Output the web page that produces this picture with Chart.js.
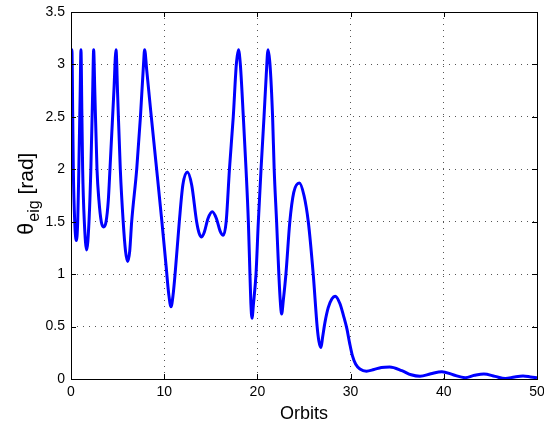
<!DOCTYPE html>
<html>
<head>
<meta charset="utf-8">
<script src="https://cdn.jsdelivr.net/npm/chart.js@4/dist/chart.umd.min.js"></script>
<style>
  body { margin: 0; background: #fff; }
  #wrap { width: 544px; height: 425px; }
</style>
</head>
<body>
<div id="wrap"><canvas id="myChart" width="544" height="425"></canvas></div>
<script>
// orbit number and eigen-angle (rad)
var orbits = [0, 0.1, 0.18, 0.25, 0.4, 0.57, 0.72, 0.84, 0.98, 1.07,
  1.16, 1.25, 1.43, 1.68, 1.93, 2.13, 2.33, 2.43,
  2.55, 2.79, 3.0, 3.25, 3.5, 3.76, 4.0, 4.18, 4.6, 4.83,
  5.0, 5.29, 5.6, 5.85, 6.08, 6.3, 6.51, 7.05, 7.45, 7.78, 7.9,
  8.12, 8.55, 9.12, 9.73, 10.2, 10.5, 10.73, 10.95, 11.2, 11.62,
  12.0, 12.48, 12.95, 13.48, 13.75, 14.02, 14.3, 14.7, 15.16, 15.6, 16.0, 16.34, 16.65,
  17.0, 17.41, 17.74, 17.97, 18.17, 18.49, 18.78, 19.03, 19.2, 19.3, 19.42, 19.58, 19.85,
  20.1, 20.39, 20.71, 20.95, 21.14, 21.35, 21.63, 21.8, 22.06, 22.3, 22.45, 22.6, 22.78,
  23.06, 23.48, 23.9, 24.5, 25.0, 25.46, 25.99, 26.41, 26.6, 26.82, 27.0, 27.25, 27.6,
  28.0, 28.35, 28.85, 29.25, 29.6, 29.9, 30.2, 30.55, 31.0, 31.7, 32.5, 33.3, 34.2, 35.5, 36.5, 37.45,
  38.6, 39.8, 41.0, 42.3, 43.3, 44.3, 45.5, 46.6, 47.6, 48.5, 49.3, 50];
var thetaEig = [3.05, 3.14, 2.55, 2.0, 1.5, 1.32, 1.5, 2.0, 2.7, 3.14,
  2.58, 2.0, 1.5, 1.23, 1.5, 2.0, 2.76, 3.14,
  2.76, 2.0, 1.7, 1.5, 1.45, 1.5, 1.7, 2.0, 2.74, 3.14,
  2.72, 2.0, 1.5, 1.22, 1.12, 1.22, 1.5, 2.0, 2.5, 3.0, 3.14,
  2.95, 2.56, 2.06, 1.52, 1.08, 0.8, 0.69, 0.8, 1.036, 1.5,
  1.85, 1.975, 1.85, 1.5, 1.39, 1.355, 1.4, 1.53, 1.594, 1.53, 1.41, 1.37, 1.5,
  2.0, 2.5, 3.0, 3.14, 3.0, 2.5, 2.0, 1.5, 1.0, 0.72, 0.58, 0.72, 1.0,
  1.5, 2.0, 2.5, 2.9, 3.14, 3.0, 2.5, 2.0, 1.5, 1.0, 0.75, 0.62, 0.75,
  1.0, 1.5, 1.78, 1.87, 1.75, 1.5, 1.0, 0.5, 0.36, 0.3, 0.4, 0.54, 0.68,
  0.765, 0.79, 0.72, 0.6, 0.48, 0.34, 0.22, 0.14, 0.095, 0.074, 0.09, 0.11, 0.115, 0.08, 0.04, 0.026,
  0.05, 0.07, 0.04, 0.013, 0.035, 0.048, 0.025, 0.005, 0.02, 0.028, 0.02, 0.012];
var xTicks = [0, 10, 20, 30, 40, 50];
var yTicks = [0, 0.5, 1, 1.5, 2, 2.5, 3, 3.5];

var fontFam = "'Liberation Sans', Arial, Helvetica, sans-serif";

var points = orbits.map(function (o, i) { return {x: o, y: thetaEig[i]}; });

// matlab-like box, inward ticks and y label with subscript
var matlabAxes = {
  id: 'matlabAxes',
  afterDraw: function (chart) {
    var ctx = chart.ctx;
    var a = chart.chartArea;
    var xs = chart.scales.x, ys = chart.scales.y;
    ctx.save();
    ctx.strokeStyle = '#000';
    ctx.lineWidth = 1;
    ctx.strokeRect(Math.round(a.left) + 0.5, Math.round(a.top) + 0.5,
      Math.round(a.right - a.left), Math.round(a.bottom - a.top));
    ctx.beginPath();
    xTicks.forEach(function (v) {
      var px = Math.round(xs.getPixelForValue(v)) + 0.5;
      ctx.moveTo(px, a.bottom); ctx.lineTo(px, a.bottom - 5);
      ctx.moveTo(px, a.top); ctx.lineTo(px, a.top + 5);
    });
    yTicks.forEach(function (v) {
      var py = Math.round(ys.getPixelForValue(v)) + 0.5;
      ctx.moveTo(a.left, py); ctx.lineTo(a.left + 5, py);
      ctx.moveTo(a.right, py); ctx.lineTo(a.right - 5, py);
    });
    ctx.stroke();

    // y title: theta_eig [rad]
    ctx.translate(33, 235);
    ctx.rotate(-Math.PI / 2);
    ctx.fillStyle = '#000';
    ctx.textBaseline = 'alphabetic';
    ctx.textAlign = 'left';
    var x = 0;
    ctx.font = '22px ' + fontFam;
    ctx.fillText('θ', x, 0);
    x += ctx.measureText('θ').width + 1;
    ctx.font = '16px ' + fontFam;
    ctx.fillText('eig', x, 6);
    x += ctx.measureText('eig').width;
    ctx.font = '21px ' + fontFam;
    ctx.fillText(' [rad]', x, 0);
    ctx.restore();
  }
};

new Chart("myChart", {
  type: "line",
  data: {
    datasets: [{
      data: points,
      borderColor: "#0000ff",
      borderWidth: 3,
      pointRadius: 0,
      cubicInterpolationMode: "monotone",
      fill: false
    }]
  },
  options: {
    responsive: false,
    animation: false,
    layout: {padding: {top: 12, right: 7, left: 0, bottom: 0}},
    plugins: {
      legend: {display: false},
      tooltip: {enabled: false}
    },
    scales: {
      x: {
        type: "linear",
        min: 0,
        max: 50,
        afterBuildTicks: function (s) { s.ticks = xTicks.map(function (v) { return {value: v}; }); },
        afterFit: function (s) { s.height = 46; s.paddingLeft = 0; s.paddingRight = 0; },
        ticks: {color: "#000", font: {size: 14, family: fontFam}, padding: 5, maxRotation: 0,
          callback: function (v) { return String(v); }},
        grid: {color: "#555", drawTicks: false, lineWidth: 1},
        border: {display: false, dash: [1, 5]},
        title: {display: true, text: "Orbits", color: "#000", font: {size: 18, family: fontFam}, padding: {top: 1, bottom: 0}}
      },
      y: {
        min: 0,
        max: 3.5,
        afterBuildTicks: function (s) { s.ticks = yTicks.map(function (v) { return {value: v}; }); },
        afterFit: function (s) { s.width = 71; s.paddingTop = 0; s.paddingBottom = 0; },
        ticks: {color: "#000", font: {size: 14, family: fontFam}, padding: 6,
          callback: function (v) { return String(v); }},
        grid: {color: "#555", drawTicks: false, lineWidth: 1},
        border: {display: false, dash: [1, 5]}
      }
    }
  },
  plugins: [matlabAxes]
});
</script>
</body>
</html>
